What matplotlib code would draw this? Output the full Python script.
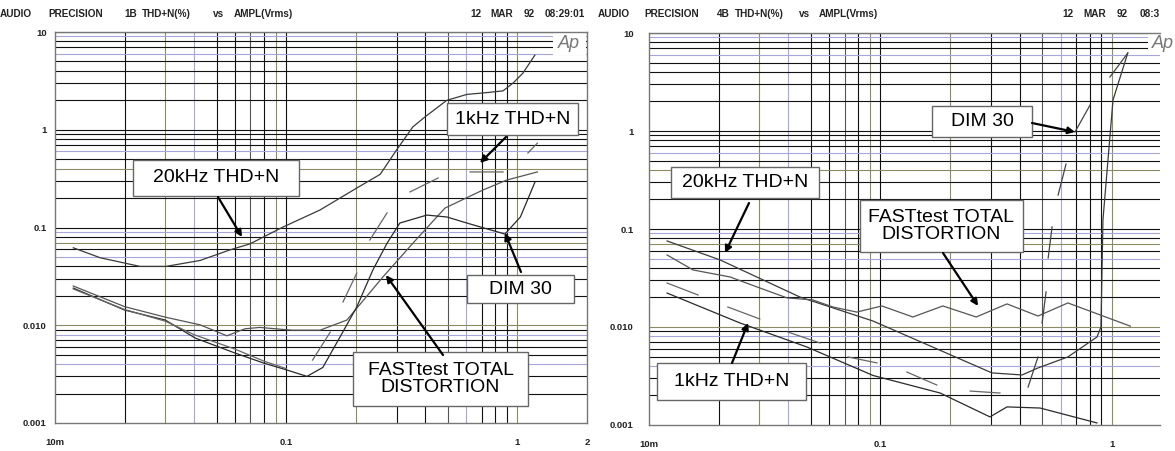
import numpy as np
import matplotlib.pyplot as plt
from matplotlib.patches import Rectangle
from matplotlib.ticker import NullLocator

W, H = 1175, 451
nan = np.nan

# ---------------- left chart : 1B THD+N(%) vs AMPL(Vrms) ----------------
l20k_x = [0.012, 0.0157, 0.0233, 0.0302, 0.0424, 0.0571, 0.0697, 0.0968, 0.140, 0.200,
          0.255, 0.300, 0.353, 0.398, 0.495, 0.605, 0.738, 0.867, 0.957, 1.057, 1.19]
l20k_y = [0.062, 0.049, 0.040, 0.040, 0.046, 0.059, 0.068, 0.101, 0.151, 0.25,
          0.35, 0.62, 1.07, 1.35, 2.0, 2.3, 2.4, 2.5, 3.0, 3.8, 5.8]

lfast_x = [0.012, 0.020, 0.030, 0.0424, 0.0554, 0.0663, 0.0768, 0.106, 0.140, 0.183,
           0.262, 0.353, 0.486, 0.710, 0.90, 1.22]
lfast_y = [0.0252, 0.0155, 0.0121, 0.0101, 0.0078, 0.0092, 0.0095, 0.0089, 0.0089, 0.0113,
           0.0312, 0.069, 0.158, 0.242, 0.306, 0.370]

ldim_x = [0.012, 0.020, 0.030, 0.0404, 0.060, 0.080, 0.100, 0.123, 0.144, 0.171, 0.202,
          0.237, 0.273, 0.310, 0.406, 0.496, 0.605, 0.883, 1.03, 1.19]
ldim_y = [0.024, 0.0143, 0.0113, 0.0074, 0.0052, 0.0041, 0.0035, 0.0030, 0.0037, 0.0076, 0.0154,
          0.0367, 0.069, 0.111, 0.134, 0.128, 0.111, 0.0857, 0.128, 0.29]

l1k_x = [0.012, 0.020, 0.030, 0.040, 0.060, 0.080, 0.100, nan, 0.130, 0.155, nan,
         0.176, 0.202, nan, 0.230, 0.273, nan, 0.343, 0.454, nan, 0.624, 0.867, nan, 1.11, 1.22]
l1k_y = [0.0235, 0.0145, 0.0110, 0.0080, 0.0057, 0.0043, 0.0036, nan, 0.0044, 0.0085, nan,
         0.0173, 0.0342, nan, 0.0745, 0.141, nan, 0.231, 0.321, nan, 0.370, 0.370, nan, 0.578, 0.73]

# ---------------- right chart : 4B THD+N(%) vs AMPL(Vrms) ----------------
r20k_x = [0.01197, 0.0203, 0.0449, 0.0929, 0.303, 0.409, 0.479, 0.645, 0.861, 0.896, 0.914, 1.01, 1.17]
r20k_y = [0.0755, 0.0483, 0.0202, 0.0115, 0.0034, 0.00324, 0.00382, 0.00495, 0.0079, 0.0100, 0.124, 2.07, 6.25]

rfast_x = [0.01197, 0.0155, 0.0224, 0.0293, 0.0395, 0.051, 0.0623, 0.079, 0.1014, 0.138,
           0.186, 0.259, 0.352, 0.479, 0.645, 1.20]
rfast_y = [0.0543, 0.0382, 0.0324, 0.0256, 0.0198, 0.0189, 0.0160, 0.0142, 0.0164, 0.01265,
           0.0164, 0.01265, 0.0172, 0.01294, 0.0176, 0.0102]

r1k_x = [0.01197, 0.0247, 0.0481, 0.0929, 0.181, 0.297, 0.352, 0.489, 0.861]
r1k_y = [0.0222, 0.0110, 0.00625, 0.0032, 0.00212, 0.00121, 0.00153, 0.00149, 0.00105]

r2_x = [0.01197, 0.0163, nan, 0.0219, 0.0301, nan, 0.0398, 0.0548, nan, 0.0725, 0.0966, nan,
        0.130, 0.175, nan, 0.244, 0.328]
r2_y = [0.0281, 0.0212, nan, 0.0160, 0.01207, nan, 0.00889, 0.00687, nan, 0.00494, 0.0043, nan,
        0.00347, 0.00256, nan, 0.00222, 0.00212]

rdim_x = [0.434, 0.479, nan, 0.499, 0.519, nan, 0.530, 0.551, nan, 0.585, 0.633, nan,
          0.692, 0.804, nan, 0.98, 1.17]
rdim_y = [0.00244, 0.00494, nan, 0.0110, 0.0228, nan, 0.0506, 0.105, nan, 0.222, 0.460, nan,
          0.977, 1.84, nan, 3.56, 6.25]

y_ticks = [10, 1, 0.1, 0.01, 0.001]
y_labels = ['10', '1', '0.1', '0.010', '0.001']

K = '#111111'
OL = '#8c8c64'
LV = '#a6a6dc'
DG = '#555555'

# grid colours per decade, mantissa 1..9
xcols = {0.01: [K, K, OL, LV, K, K, DG, K, OL],
         0.1: [K, OL, K, K, DG, LV, K, K, K],
         1: [OL, K, K, K, K, K, K, K, K]}
ycols = {0.001: [K, K, K, LV, K, K, K, LV, K],
         0.01: [OL, K, K, K, LV, K, OL, K, LV],
         0.1: [K, K, K, OL, K, LV, K, K, K],
         1: [K, K, K, K, K, LV, K, K, LV],
         10: [K]}


def fx(px):
    return px / W


def fy(py):
    return 1 - py / H


fig = plt.figure(figsize=(11.75, 4.51), dpi=100)


def make_axes(left, right, top, bottom, xmax, xt, xl, ypad):
    ax = fig.add_axes([fx(left), fy(bottom), (right - left) / W, (bottom - top) / H])
    ax.set_xscale('log')
    ax.set_yscale('log')
    ax.set_xlim(0.01, xmax)
    ax.set_ylim(0.001, 10)
    for d, cols in xcols.items():
        for m, c in enumerate(cols, 1):
            v = m * d
            if 0.01 < v < xmax:
                ax.axvline(v, color=c, lw=0.8, zorder=0.5)
    for d, cols in ycols.items():
        for m, c in enumerate(cols, 1):
            v = m * d
            if 0.001 < v <= 10:
                ax.axhline(v, color=c, lw=0.8, zorder=0.5)
    ax.set_xticks(xt)
    ax.set_xticklabels(xl)
    ax.set_yticks(y_ticks)
    ax.set_yticklabels(y_labels)
    ax.xaxis.set_minor_locator(NullLocator())
    ax.yaxis.set_minor_locator(NullLocator())
    ax.tick_params(axis='x', length=0, pad=11)
    ax.tick_params(axis='y', length=0, pad=ypad)
    for lab in ax.get_xticklabels() + ax.get_yticklabels():
        lab.set_fontsize(6.8)
        lab.set_fontweight('bold')
        lab.set_family('Liberation Sans')
        lab.set_color('#222222')
    for s in ax.spines.values():
        s.set_color('#777777')
        s.set_linewidth(1)
    return ax


def box(ax, x0, y0, x1, y1, text):
    ax.add_patch(Rectangle((fx(x0), fy(y1)), (x1 - x0) / W, (y1 - y0) / H,
                           transform=fig.transFigure, facecolor='white',
                           edgecolor='#666666', lw=1, zorder=4, clip_on=False))
    ax.text(fx((x0 + x1) / 2), fy((y0 + y1) / 2), text, transform=fig.transFigure,
            ha='center', va='center', fontsize=14, family='Liberation Sans',
            linespacing=1.05, zorder=5)


def arrow(ax, tip, start):
    ax.annotate('', xy=tip, xycoords='data', xytext=(fx(start[0]), fy(start[1])),
                textcoords='figure fraction', zorder=6,
                arrowprops=dict(arrowstyle='-|>', color='black', lw=1.6,
                                mutation_scale=10, shrinkA=0, shrinkB=0))


def ap_logo(ax, x0, x1, y0, y1, tx):
    ax.add_patch(Rectangle((fx(x0), fy(y1)), (x1 - x0) / W, (y1 - y0) / H,
                           transform=fig.transFigure, facecolor='white',
                           edgecolor='none', zorder=1, clip_on=False))
    fig.text(fx(tx), fy(44), 'Ap', fontsize=13, fontstyle='italic', color='#777777',
             family='Liberation Sans', ha='left', va='center')


def header(words):
    for x, w in words:
        fig.text(fx(x), fy(14), w, fontsize=7.2, family='Liberation Sans',
                 fontweight='bold', color='#222222', ha='left', va='center')


# ---- left panel ----
axl = make_axes(55, 587, 32, 423, 2, [0.01, 0.1, 1, 2], ['10m', '0.1', '1', '2'], 6)
ap_logo(axl, 553, 586, 33, 55, 558)
axl.plot(l20k_x, l20k_y, color='#3a3a3a', lw=0.9, zorder=2)
axl.plot(lfast_x, lfast_y, color='#555555', lw=0.9, zorder=2)
axl.plot(ldim_x, ldim_y, color='#2a2a2a', lw=0.9, zorder=2)
axl.plot(l1k_x, l1k_y, color='#666666', lw=0.9, zorder=2)

box(axl, 133, 160, 299, 196, '20kHz THD+N')
arrow(axl, (0.0644, 0.080), (218, 197))
box(axl, 447, 103, 578, 135, '1kHz THD+N')
arrow(axl, (0.689, 0.457), (506, 137))
box(axl, 467, 275, 574, 303, 'DIM 30')
arrow(axl, (0.883, 0.088), (521, 272))
box(axl, 353, 352, 528, 406, 'FASTtest TOTAL\nDISTORTION')
arrow(axl, (0.270, 0.0326), (443, 355))

# ---- right panel ----
axr = make_axes(649, 1160, 33, 425, 1.612, [0.01, 0.1, 1], ['10m', '0.1', '1'], 11)
axr.spines['right'].set_visible(False)
ap_logo(axr, 1148, 1175, 33, 55, 1152)
axr.plot(r20k_x, r20k_y, color='#3a3a3a', lw=0.9, zorder=2)
axr.plot(rfast_x, rfast_y, color='#555555', lw=0.9, zorder=2)
axr.plot(r1k_x, r1k_y, color='#2a2a2a', lw=0.9, zorder=2)
axr.plot(r2_x, r2_y, color='#666666', lw=0.9, zorder=2)
axr.plot(rdim_x, rdim_y, color='#444444', lw=0.9, zorder=2)

box(axr, 671, 167, 819, 198, '20kHz THD+N')
arrow(axr, (0.0213, 0.0569), (749, 203))
box(axr, 932, 106, 1032, 137, 'DIM 30')
arrow(axr, (0.692, 0.977), (1032, 123))
box(axr, 860, 200, 1023, 252, 'FASTtest TOTAL\nDISTORTION')
arrow(axr, (0.264, 0.0164), (943, 253))
box(axr, 657, 363, 806, 400, '1kHz THD+N')
arrow(axr, (0.0268, 0.0110), (732, 363))

header([(0, 'AUDIO'), (48, 'PRECISION'), (124, '1B'), (142, 'THD+N(%)'), (213, 'vs'),
        (234, 'AMPL(Vrms)'), (470, '12'), (490, 'MAR'), (524, '92'), (545, '08:29:01')])
header([(598, 'AUDIO'), (644, 'PRECISION'), (717, '4B'), (735, 'THD+N(%)'), (799, 'vs'),
        (819, 'AMPL(Vrms)'), (1062, '12'), (1083, 'MAR'), (1117, '92'), (1140, '08:3')])

fig.savefig('out.png', dpi=100, facecolor='white')
